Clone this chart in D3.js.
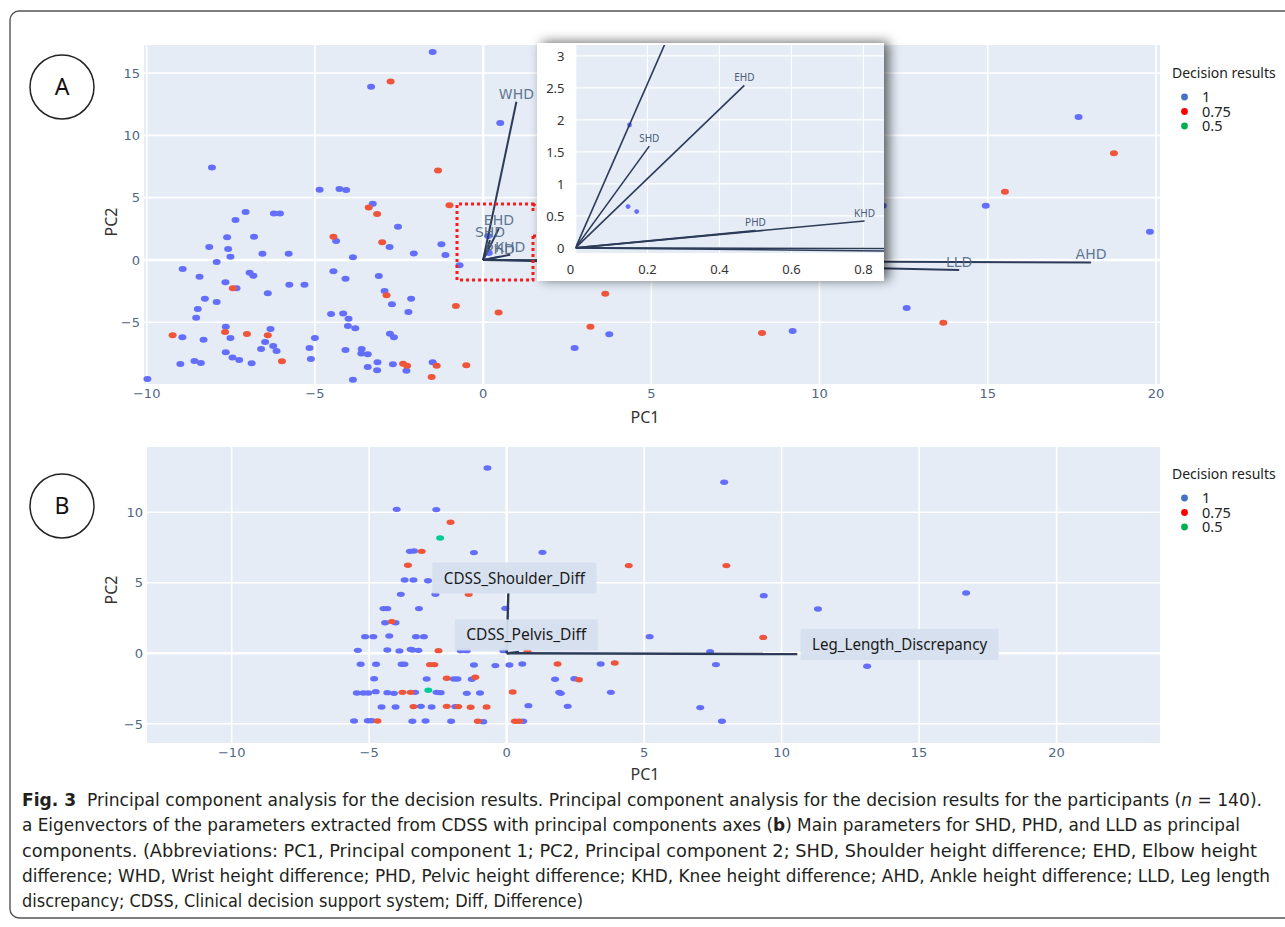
<!DOCTYPE html>
<html><head><meta charset="utf-8">
<script src="https://cdn.jsdelivr.net/npm/d3@7"></script>
<style>body{margin:0;background:#fff}svg{display:block}</style>
</head><body>
<svg id="c" width="1285" height="927"></svg>
<script>
// ---------------- DATA ----------------
const decisionLevels = ["1", "0.75", "0.5"];
const xTicksA = [-10, -5, 0, 5, 10, 15, 20];
const yTicksA = [-5, 0, 5, 10, 15];
const xTicksInset = [0, 0.2, 0.4, 0.6, 0.8];
const yTicksInset = [0, 0.5, 1, 1.5, 2, 2.5, 3];
const xTicksB = [-10, -5, 0, 5, 10, 15, 20];
const yTicksB = [-5, 0, 5, 10];

// Panel A scores [PC1, PC2]
const A_result1 = [[-1.50,16.68],[-3.33,13.90],[0.51,10.99],[-8.06,7.43],[-4.86,5.64],[-4.27,5.70],[-4.07,5.61],[-3.28,4.52],[-7.06,3.85],[-7.36,3.21],[-6.22,3.74],[-6.04,3.74],[-2.53,2.67],[-7.61,1.82],[-6.81,1.87],[-4.37,1.52],[-2.78,1.04],[-1.24,1.26],[-8.14,1.04],[-7.58,0.88],[-7.51,0.27],[-6.56,0.51],[-5.78,0.51],[-2.06,0.53],[-1.12,0.40],[-3.87,0.21],[-7.92,-0.16],[-8.93,-0.72],[-0.70,-0.43],[-8.43,-1.34],[-6.94,-1.02],[-6.83,-1.26],[-4.45,-0.91],[-4.09,-1.50],[-3.10,-1.28],[-7.66,-1.79],[-7.33,-2.27],[-5.76,-1.98],[-5.31,-1.98],[-6.40,-2.67],[-2.93,-2.49],[-2.14,-3.10],[-8.27,-3.10],[-7.92,-3.37],[-8.48,-3.93],[-8.53,-4.63],[-2.71,-3.56],[-2.22,-4.17],[-4.52,-4.33],[-4.16,-4.30],[-4.0,-4.71],[-4.02,-5.29],[-3.80,-5.48],[-7.65,-5.35],[-6.32,-5.53],[-8.94,-6.20],[-8.31,-6.39],[-7.51,-6.26],[-5.0,-6.26],[-2.77,-5.91],[-2.65,-6.20],[-6.48,-6.58],[-6.24,-6.90],[-6.60,-7.14],[-6.14,-7.30],[-5.16,-7.06],[-4.09,-7.22],[-3.61,-7.14],[-3.62,-7.51],[-3.43,-7.57],[-7.65,-7.41],[-7.45,-7.83],[-7.25,-8.02],[-8.58,-8.10],[-8.39,-8.26],[-9.0,-8.34],[-6.88,-8.29],[-5.12,-7.94],[-3.14,-8.21],[-3.43,-8.58],[-3.15,-8.85],[-2.68,-8.37],[-2.28,-8.88],[-1.50,-8.21],[-9.98,-9.55],[-3.87,-9.60],[0.15,1.92],[0.146,0.645],[0.17,0.567],[3.75,-5.96],[2.72,-7.06],[9.20,-5.69],[12.59,-3.85],[17.70,11.47],[14.94,4.35],[19.82,2.27],[11.88,4.35]];
const A_result075 = [[-2.75,14.33],[-1.34,7.19],[-1.00,4.39],[-3.40,4.22],[-3.15,3.69],[-4.45,1.87],[-3.0,1.42],[-7.44,-2.27],[-2.87,-2.83],[-0.81,-3.69],[0.46,-4.22],[-7.67,-5.78],[-9.23,-6.04],[-7.02,-5.94],[-6.40,-6.04],[-5.98,-8.13],[-2.38,-8.32],[-2.26,-8.48],[-1.38,-8.48],[-0.50,-8.45],[-1.53,-9.39],[3.63,-2.70],[3.19,-5.35],[8.29,-5.85],[13.68,-5.03],[18.75,8.56],[15.51,5.48]];
const A_result05 = [];

// Panel A loadings (eigenvectors)
const vecNamesA = ["WHD", "EHD", "SHD", "PHD", "KHD", "AHD", "LLD"];
const vecPC1A = [0.99, 0.469, 0.205, 0.50, 0.803, 18.07, 14.15];
const vecPC2A = [12.7, 2.54, 1.59, 0.27, 0.42, -0.2, -0.8];

// Panel B scores
const B_result1 = [[-0.70,13.14],[-4.0,10.21],[-2.56,10.19],[-3.52,7.23],[-3.37,7.26],[-1.19,7.14],[-3.71,5.20],[-3.39,5.20],[-2.86,5.15],[-3.85,4.18],[-2.59,4.18],[-4.48,3.17],[-4.34,3.17],[-3.19,3.17],[-0.05,3.19],[-4.42,2.17],[-4.04,2.17],[-5.15,1.18],[-4.85,1.18],[-4.27,1.23],[-3.30,1.18],[-3.01,1.18],[-5.41,0.21],[-4.34,0.24],[-3.90,0.17],[-3.49,0.28],[-3.43,0.24],[-3.21,0.21],[-1.67,0.19],[-1.45,0.19],[-0.12,0.19],[-5.31,-0.78],[-4.75,-0.78],[-3.82,-0.78],[-3.72,-0.78],[-1.19,-0.83],[-0.41,-0.87],[0.10,-0.83],[-4.82,-1.80],[-2.91,-1.82],[-1.92,-1.82],[-1.79,-1.82],[-1.27,-1.84],[-5.45,-2.81],[-5.21,-2.81],[-5.03,-2.81],[-4.76,-2.72],[-4.34,-2.79],[-4.10,-2.84],[-3.33,-2.77],[-2.55,-2.77],[-2.40,-2.79],[-1.45,-2.84],[-0.97,-2.81],[-4.55,-3.81],[-4.04,-3.81],[-3.12,-3.76],[-2.73,-3.81],[-1.87,-3.78],[-5.55,-4.80],[-5.05,-4.78],[-4.91,-4.78],[-3.43,-4.82],[-2.95,-4.80],[-2.02,-4.82],[-0.85,-4.85],[7.91,12.13],[1.30,7.16],[9.35,4.09],[16.71,4.28],[11.32,3.14],[5.20,1.18],[7.40,0.12],[7.61,-0.80],[13.11,-0.92],[0.57,-0.76],[3.42,-0.76],[1.76,-1.84],[2.46,-1.80],[1.91,-2.77],[1.97,-2.84],[3.79,-2.77],[0.79,-3.71],[2.22,-3.76],[7.04,-3.85],[0.60,-4.82],[7.83,-4.82]];
const B_result075 = [[-2.04,9.29],[-3.09,7.23],[-3.59,6.24],[-1.38,4.18],[-4.18,2.25],[-2.48,0.19],[-2.79,-0.80],[-2.63,-0.80],[-2.18,-1.77],[-1.14,-1.70],[-3.79,-2.77],[-3.49,-2.77],[0.22,-2.74],[-3.39,-3.78],[-2.18,-3.76],[-1.76,-3.78],[-1.31,-3.83],[-0.73,-3.81],[-4.70,-4.80],[-1.05,-4.82],[0.30,-4.82],[0.45,-4.82],[4.44,6.22],[7.99,6.22],[9.33,1.13],[0.76,0.14],[1.85,-0.76],[3.93,-0.69],[2.63,-1.87]];
const B_result05 = [[-2.42,8.18],[-2.85,-2.62]];

// Panel B loadings and annotation anchors
const vecNamesB = ["CDSS_Shoulder_Diff", "CDSS_Pelvis_Diff", "Leg_Length_Discrepancy"];
const vecPC1B = [0.06, 0.45, 10.57];
const vecPC2B = [4.3, 0.1, -0.05];
const labelPC1B = [0.28, 0.71, 14.29];
const labelPC2B = [5.34, 1.30, 0.63];

const captionLines = [
  [["b","Fig. 3"],["r","  Principal component analysis for the decision results. Principal component analysis for the decision results for the participants ("],["i","n"],["r"," = 140)."]],
  [["r","a Eigenvectors of the parameters extracted from CDSS with principal components axes ("],["b","b"],["r",") Main parameters for SHD, PHD, and LLD as principal"]],
  [["r","components. (Abbreviations: PC1, Principal component 1; PC2, Principal component 2; SHD, Shoulder height difference; EHD, Elbow height"]],
  [["r","difference; WHD, Wrist height difference; PHD, Pelvic height difference; KHD, Knee height difference; AHD, Ankle height difference; LLD, Leg length"]],
  [["r","discrepancy; CDSS, Clinical decision support system; Diff, Difference)"]]
];

// ---------------- STYLE ----------------
const dotColors = ["#636efa", "#ef553b", "#00cc96"];
const legendColors = ["#4472c4", "#ff0000", "#00b050"];
const bg = "#e5ecf6";
const tickColor = "#506784";
const vecColor = "#2c3b58";
const fmt = d => d < 0 ? "\u2212" + Math.abs(d) : String(d);

const svg = d3.select("#c");
svg.append("rect").attr("width",1285).attr("height",927).attr("fill","#fff");
const defs = svg.append("defs");
const f = defs.append("filter").attr("id","shadow").attr("x","-20%").attr("y","-20%").attr("width","140%").attr("height","140%");
f.append("feDropShadow").attr("dx",5).attr("dy",-1).attr("stdDeviation",6).attr("flood-color","#000").attr("flood-opacity",0.6);

// outer frame
svg.append("rect").attr("x",10).attr("y",11).attr("width",1300).attr("height",907).attr("rx",9)
  .attr("fill","none").attr("stroke","#555").attr("stroke-width",1.4);

function panelLetter(cx, cy, t) {
  svg.append("circle").attr("cx",cx).attr("cy",cy).attr("r",32).attr("fill","#fff").attr("stroke","#222").attr("stroke-width",1.5);
  svg.append("text").attr("x",cx).attr("y",cy+8).attr("text-anchor","middle").attr("font-family","Noto Sans, Arial, sans-serif").attr("font-size",23).attr("fill","#111").text(t);
}

function drawPlot(g, x, y, xt, yt, opt) {
  const [x0,x1] = x.range(), [y0,y1] = y.range();
  g.append("rect").attr("x",x0).attr("y",y1).attr("width",x1-x0).attr("height",y0-y1).attr("fill",bg);
  g.selectAll(null).data(xt).enter().append("line")
    .attr("x1",d=>x(d)).attr("x2",d=>x(d)).attr("y1",y1).attr("y2",y0)
    .attr("stroke","#fff").attr("stroke-width",d=>d===0?opt.zw:opt.gw);
  g.selectAll(null).data(yt).enter().append("line")
    .attr("y1",d=>y(d)).attr("y2",d=>y(d)).attr("x1",x0).attr("x2",x1)
    .attr("stroke","#fff").attr("stroke-width",d=>d===0?opt.zw:opt.gw);
  g.selectAll(null).data(xt).enter().append("text")
    .attr("x",d=>x(d) - (opt.firstShift && d===xt[0] ? opt.firstShift : 0)).attr("y",y0+opt.xlab).attr("text-anchor","middle")
    .attr("font-family",opt.font).attr("font-size",opt.fs).attr("fill",opt.tc).text(opt.fx||fmt);
  g.selectAll(null).data(yt).enter().append("text")
    .attr("x",x0-opt.ylab).attr("y",d=>y(d)+opt.fs*0.36).attr("text-anchor","end")
    .attr("font-family",opt.font).attr("font-size",opt.fs).attr("fill",opt.tc).text(opt.fy||fmt);
}

function drawDots(g, x, y, groups, rx, ry) {
  groups.forEach((pts,i) => {
    g.selectAll(null).data(pts).enter().append("ellipse")
      .attr("cx",d=>x(d[0])).attr("cy",d=>y(d[1])).attr("rx",rx).attr("ry",ry)
      .attr("fill",dotColors[i]);
  });
}

function legend(x0, y0) {
  const g = svg.append("g");
  g.append("text").attr("x",x0).attr("y",y0).attr("font-family","Noto Sans, Arial, sans-serif").attr("font-size",14).attr("fill","#222").text("Decision results");
  decisionLevels.forEach((l,i) => {
    const yy = y0 + 19 + i*14.5;
    g.append("circle").attr("cx",x0+12.5).attr("cy",yy).attr("r",3.4).attr("fill",legendColors[i]);
    g.append("text").attr("x",x0+30).attr("y",yy+5).attr("font-family","Noto Sans, Arial, sans-serif").attr("font-size",14.5).attr("fill","#222").text(l);
  });
}

function axisTitles(xx, xy, yx, yy) {
  svg.append("text").attr("x",xx).attr("y",xy).attr("text-anchor","middle").attr("font-family","Noto Sans, Arial, sans-serif").attr("font-size",16).attr("fill","#333").text("PC1");
  svg.append("text").attr("transform",`translate(${yx},${yy}) rotate(-90)`).attr("text-anchor","middle").attr("font-family","Noto Sans, Arial, sans-serif").attr("font-size",16).attr("fill","#333").text("PC2");
}

// ---------------- PANEL A ----------------
panelLetter(62, 87, "A");
const xA = d3.scaleLinear().domain([-10.08, 20.12]).range([144, 1160]);
const yA = d3.scaleLinear().domain([-9.95, 17.25]).range([384, 45]);
const gA = svg.append("g");
drawPlot(gA, xA, yA, xTicksA, yTicksA, {zw:2.5, gw:1.6, xlab:14, ylab:4, font:"DejaVu Sans, Verdana, sans-serif", fs:13, tc:tickColor});
drawDots(gA, xA, yA, [A_result1, A_result075, A_result05], 4, 3);
vecNamesA.forEach((n,i) => {
  gA.append("line").attr("x1",xA(0)).attr("y1",yA(0)).attr("x2",xA(vecPC1A[i])).attr("y2",yA(vecPC2A[i]))
    .attr("stroke",vecColor).attr("stroke-width",2);
});
vecNamesA.forEach((n,i) => {
  gA.append("text").attr("x",xA(vecPC1A[i])).attr("y",yA(vecPC2A[i])-3).attr("text-anchor","middle")
    .attr("font-family","DejaVu Sans, Verdana, sans-serif").attr("font-size",14).attr("fill",tickColor).attr("fill-opacity",0.9).text(n);
});
axisTitles(645, 423, 117, 222);
legend(1172, 78);

// red dotted callout
const red = svg.append("g").attr("fill","none").attr("stroke","#ff1a1a").attr("stroke-width",3).attr("stroke-dasharray","3 3");
red.append("path").attr("d","M533,236 L533,280 L457,280 L457,204 L533,204 L533,213");
red.append("path").attr("d","M533,204 L566,233");
red.append("path").attr("d","M533,236 L566,236");

// inset
const xI = d3.scaleLinear().domain([0, 0.857]).range([575.5, 884]);
const yI = d3.scaleLinear().domain([-0.08, 3.17]).range([253, 45]);
const gI = svg.append("g");
gI.append("rect").attr("x",537).attr("y",43).attr("width",347).attr("height",238).attr("fill","#fff").attr("filter","url(#shadow)");
drawPlot(gI, xI, yI, xTicksInset, yTicksInset, {zw:1.6, gw:1.2, xlab:21, ylab:11, font:"Noto Sans, Arial, sans-serif", fs:13, tc:"#333", fx:d=>String(d), fy:d=>String(d), firstShift:5});
defs.append("clipPath").attr("id","clipI").append("rect").attr("x",575.5).attr("y",45).attr("width",308.5).attr("height",208);
const gIc = gI.append("g").attr("clip-path","url(#clipI)");
drawDots(gIc, xI, yI, [A_result1, A_result075, A_result05], 2.4, 2.4);
vecNamesA.forEach((n,i) => {
  gIc.append("line").attr("x1",xI(0)).attr("y1",yI(0)).attr("x2",xI(vecPC1A[i])).attr("y2",yI(vecPC2A[i]))
    .attr("stroke",vecColor).attr("stroke-width",1.6);
});
const [ix0, ix1] = xI.domain(), [iy0, iy1] = yI.domain();
vecNamesA.forEach((n,i) => {
  const vx = vecPC1A[i], vy = vecPC2A[i];
  if (vx < ix0 || vx > ix1 || vy < iy0 || vy > iy1) return; // label outside inset view
  gIc.append("text").attr("x",xI(vx)).attr("y",yI(vy)-4.5).attr("text-anchor","middle")
    .attr("font-family","Noto Sans, Arial, sans-serif").attr("font-size",10).attr("fill","#4a5a78").text(n);
});

// ---------------- PANEL B ----------------
panelLetter(62, 506, "B");
const xB = d3.scaleLinear().domain([-13.08, 23.76]).range([147, 1160]);
const yB = d3.scaleLinear().domain([-6.36, 14.63]).range([743, 447]);
const gB = svg.append("g");
drawPlot(gB, xB, yB, xTicksB, yTicksB, {zw:2.5, gw:1.6, xlab:14, ylab:4, font:"DejaVu Sans, Verdana, sans-serif", fs:13, tc:tickColor});
drawDots(gB, xB, yB, [B_result1, B_result075, B_result05], 4, 2.7);
vecNamesB.forEach((n,i) => {
  gB.append("line").attr("x1",xB(0)).attr("y1",yB(0)).attr("x2",xB(vecPC1B[i])).attr("y2",yB(vecPC2B[i]))
    .attr("stroke",vecColor).attr("stroke-width",2.4);
});
const labelW = [141, 120, 175];
vecNamesB.forEach((n,i) => {
  const cx = xB(labelPC1B[i]), cy = yB(labelPC2B[i]);
  const w = labelW[i] + 23, h = 31;
  gB.append("rect").attr("x",cx-w/2).attr("y",cy-h/2).attr("width",w).attr("height",h).attr("fill","#d5dfee").attr("fill-opacity",0.95);
  gB.append("text").attr("x",cx-labelW[i]/2).attr("y",cy+5.5).attr("textLength",labelW[i]).attr("lengthAdjust","spacingAndGlyphs")
    .attr("font-family","Noto Sans, Arial, sans-serif").attr("font-size",16).attr("fill","#1a1a1a").text(n);
});
axisTitles(645, 780, 117, 590);
legend(1172, 479);

// ---------------- CAPTION ----------------
const capEnds = [1262, 1240, 1257, 1270, 583];
const capBase = [806, 831, 857, 882, 907];
captionLines.forEach((parts,i) => {
  const t = svg.append("text").attr("x",22).attr("y",capBase[i])
    .attr("font-family","DejaVu Sans Condensed, Liberation Sans Narrow, Arial Narrow, sans-serif")
    .attr("font-size",17).attr("fill","#231f20")
    .attr("textLength",capEnds[i]-22).attr("lengthAdjust","spacingAndGlyphs")
    .attr("xml:space","preserve");
  parts.forEach(p => {
    const s = t.append("tspan").text(p[1]);
    if (p[0]==="b") s.attr("font-weight","bold");
    if (p[0]==="i") s.attr("font-style","italic");
  });
});
</script>
</body></html>
